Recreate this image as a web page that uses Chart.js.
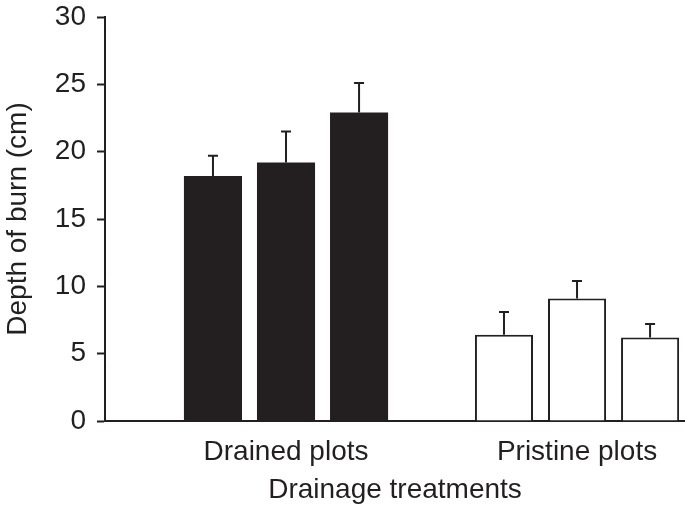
<!DOCTYPE html>
<html lang="en">
<head>
    <meta charset="UTF-8">
    <title>Depth of burn by drainage treatment</title>
    <script src="https://cdn.jsdelivr.net/npm/chart.js"></script>
    <style>
        body {
            margin: 0;
            padding: 0;
            background: #ffffff;
        }
        #burnChart {
            display: block;
        }
    </style>
</head>
<body>

<canvas id="burnChart" width="685" height="507"></canvas>

<script>
    // data
    const groupLabels = ['Drained plots', 'Pristine plots'];
    const drainedMean = [18.2, 19.2, 22.9];
    const drainedErr = [1.5, 2.3, 2.2];
    const pristineMean = [6.4, 9.1, 6.2];
    const pristineErr = [1.7, 1.3, 1.0];
    const yTicks = [0, 5, 10, 15, 20, 25, 30];

    const ink = '#231f20';
    const fontFamily = '"Liberation Sans", Arial, Helvetica, sans-serif';

    // one dataset per bar position inside a group
    const datasets = drainedMean.map((m, i) => ({
        label: 'Plot ' + (i + 1),
        data: [
            { x: 0, y: m, err: drainedErr[i] },
            { x: 1, y: pristineMean[i], err: pristineErr[i] }
        ],
        backgroundColor: [ink, '#ffffff'],
        borderColor: ink,
        borderWidth: [0, 2],
        borderSkipped: 'bottom',
        categoryPercentage: 0.753,
        barPercentage: 0.795
    }));

    // error bars (upper whisker only)
    const errorBars = {
        id: 'errorBars',
        afterDatasetsDraw(chart) {
            const ctx = chart.ctx;
            const yScale = chart.scales.y;
            ctx.save();
            ctx.strokeStyle = ink;
            ctx.lineWidth = 2;
            chart.data.datasets.forEach((ds, i) => {
                const meta = chart.getDatasetMeta(i);
                meta.data.forEach((bar, j) => {
                    const point = ds.data[j];
                    const top = yScale.getPixelForValue(point.y + point.err);
                    ctx.beginPath();
                    ctx.moveTo(bar.x, bar.y);
                    ctx.lineTo(bar.x, top);
                    ctx.moveTo(bar.x - 5, top);
                    ctx.lineTo(bar.x + 5, top);
                    ctx.stroke();
                });
            });
            ctx.restore();
        }
    };

    new Chart(document.getElementById('burnChart'), {
        type: 'bar',
        data: { datasets: datasets },
        plugins: [errorBars],
        options: {
            responsive: false,
            animation: false,
            layout: { padding: { top: 17, right: 0, bottom: 0, left: 0 } },
            plugins: {
                legend: { display: false },
                tooltip: { enabled: false }
            },
            scales: {
                x: {
                    type: 'linear',
                    min: -0.622,
                    max: 1.371,
                    offset: false,
                    afterBuildTicks: (scale) => {
                        scale.ticks = groupLabels.map((_, i) => ({ value: i }));
                    },
                    afterFit: (scale) => { scale.height = 86; },
                    grid: { display: false, drawTicks: false },
                    border: { display: true, color: ink, width: 2 },
                    ticks: {
                        color: ink,
                        padding: 14,
                        maxRotation: 0,
                        autoSkip: false,
                        font: { family: fontFamily, size: 28 },
                        callback: (v) => groupLabels[v]
                    },
                    title: {
                        display: true,
                        text: 'Drainage treatments',
                        color: ink,
                        padding: { top: 0, bottom: 0 },
                        font: { family: fontFamily, size: 28 }
                    }
                },
                y: {
                    min: 0,
                    max: 30,
                    afterBuildTicks: (scale) => {
                        scale.ticks = yTicks.map(v => ({ value: v }));
                    },
                    afterFit: (scale) => {
                        scale.width = 105;
                        scale.paddingTop = 17;
                        scale.paddingBottom = 0;
                    },
                    grid: {
                        drawOnChartArea: false,
                        drawTicks: true,
                        tickLength: 8,
                        tickWidth: 2,
                        color: ink
                    },
                    border: { display: true, color: ink, width: 2 },
                    ticks: {
                        color: ink,
                        padding: 11,
                        font: { family: fontFamily, size: 28 }
                    },
                    title: {
                        display: true,
                        text: 'Depth of burn (cm)',
                        color: ink,
                        padding: { top: 1, bottom: 0 },
                        font: { family: fontFamily, size: 28 }
                    }
                }
            }
        }
    });
</script>

</body>
</html>
